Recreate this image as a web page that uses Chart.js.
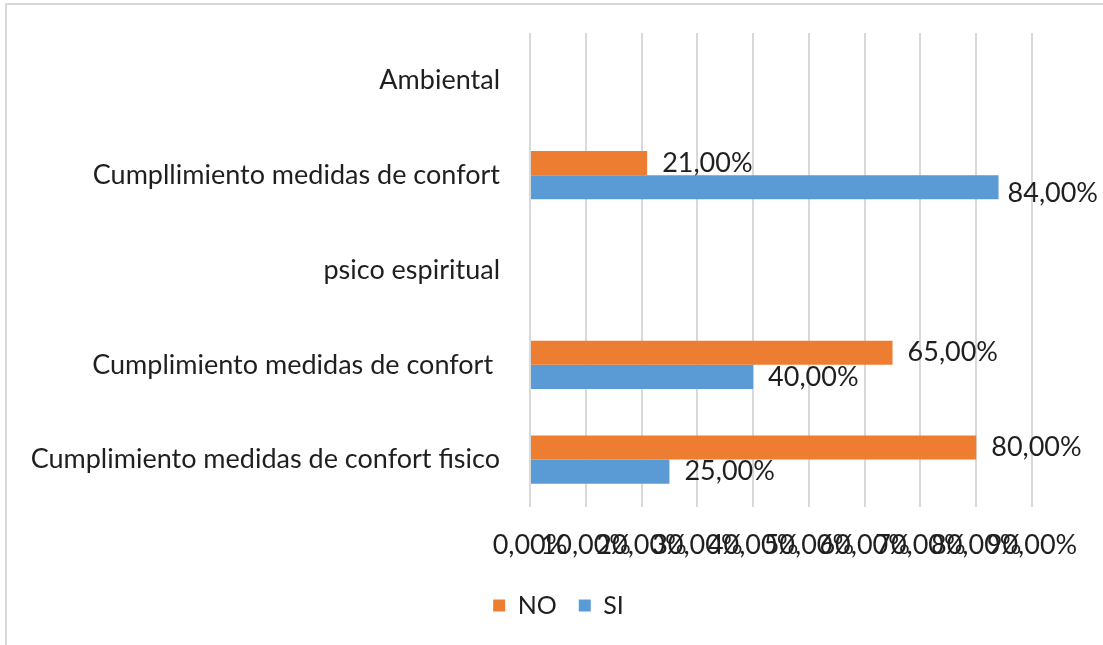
<!DOCTYPE html>
<html>
<head>
<meta charset="utf-8">
<script src="https://cdn.jsdelivr.net/npm/chart.js@4"></script>
<style>
  html, body { margin: 0; padding: 0; background: #fff; }
  #wrap {
    position: absolute; left: 5px; top: 3px;
    width: 1096px; height: 640px;
    border-left: 2px solid #d9d9d9; border-top: 2px solid #d9d9d9;
  }
</style>
</head>
<body>
<div id="wrap"><canvas id="myChart" width="1096" height="640"></canvas></div>
<script>
const categories = [
  "Ambiental",
  "Cumpllimiento medidas de confort",
  "psico espiritual",
  "Cumplimiento medidas de confort ",
  "Cumplimiento medidas de confort fisico"
];
const noValues = [null, 21, null, 65, 80];
const siValues = [null, 84, null, 40, 25];
const xTicks = [0, 10, 20, 30, 40, 50, 60, 70, 80, 90];

const fontFamily = "Lato, 'Open Sans', sans-serif";
const textColor = "#1f1f1f";

function pct(v) {
  return v.toFixed(2).replace(".", ",") + "%";
}

// value labels at the end of each bar
const barLabels = {
  id: "barLabels",
  afterDatasetsDraw(chart) {
    const ctx = chart.ctx;
    ctx.save();
    ctx.font = "27px " + fontFamily;
    ctx.fillStyle = textColor;
    ctx.textBaseline = "middle";
    ctx.textAlign = "left";
    chart.data.datasets.forEach((ds, i) => {
      const meta = chart.getDatasetMeta(i);
      meta.data.forEach((bar, j) => {
        const v = ds.data[j];
        if (v == null) return;
        const txt = pct(v);
        const w = ctx.measureText(txt).width;
        let x = bar.x + 15;
        let y = bar.y;
        if (x + w > chart.width - 5) {
          x = chart.width - 5 - w;
          y += 6;
        }
        ctx.fillText(txt, x, y);
      });
    });
    ctx.restore();
  }
};

// move the legend a bit to the right, under the plot like in the original
const legendShift = {
  id: "legendShift",
  afterLayout(chart) {
    chart.legend.left += 39;
    chart.legend.right += 39;
  }
};

new Chart("myChart", {
  type: "bar",
  data: {
    labels: categories,
    datasets: [
      { label: "NO", data: noValues, backgroundColor: "#ED7D31" },
      { label: "SI", data: siValues, backgroundColor: "#5B9BD5" }
    ]
  },
  options: {
    indexAxis: "y",
    responsive: false,
    animation: false,
    datasets: {
      bar: { categoryPercentage: 0.51, barPercentage: 1.0 }
    },
    layout: { padding: { top: 28, right: 71, bottom: 17, left: 0 } },
    scales: {
      x: {
        min: 0,
        max: 90,
        afterBuildTicks: (scale) => {
          scale.ticks = xTicks.map((v) => ({ value: v }));
        },
        afterFit: (scale) => { scale.height = 64; },
        grid: { color: "#d9d9d9", lineWidth: 2, drawTicks: false },
        border: { display: false },
        ticks: {
          autoSkip: false,
          maxRotation: 0,
          padding: 22,
          color: textColor,
          font: { family: fontFamily, size: 27 },
          callback: (v) => pct(v)
        }
      },
      y: {
        afterFit: (scale) => {
          scale.width = 523;
          scale.paddingTop = 0;
          scale.paddingBottom = 0;
        },
        grid: { display: false, drawTicks: false },
        border: { display: false },
        ticks: {
          padding: 30,
          color: textColor,
          font: { family: fontFamily, size: 27 }
        }
      }
    },
    plugins: {
      legend: {
        position: "bottom",
        labels: {
          boxWidth: 12,
          boxHeight: 12,
          padding: 22,
          color: textColor,
          font: { family: fontFamily, size: 25 }
        }
      },
      tooltip: { enabled: false }
    }
  },
  plugins: [barLabels, legendShift]
});
</script>
</body>
</html>
